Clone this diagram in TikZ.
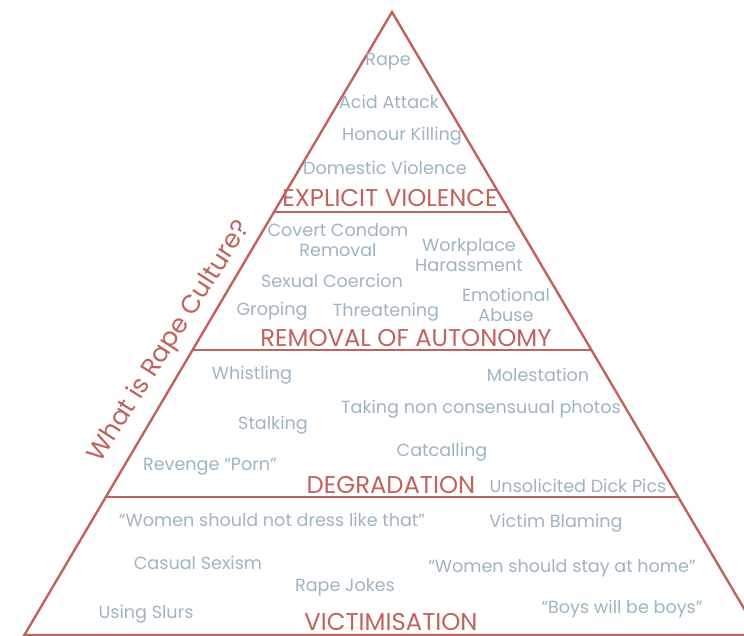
\documentclass[tikz,border=0pt]{standalone}
\usepackage{fontspec}
\setmainfont{Poppins}
\definecolor{rose}{HTML}{C2625D}
\definecolor{slate}{HTML}{9DB4C2}
\begin{document}
\begin{tikzpicture}[x=1pt,y=-1pt,
  item/.style={text=slate,font=\fontsize{17.6}{20.5}\selectfont,align=center,inner sep=0pt},
  tier/.style={text=rose,font=\fontsize{24.3}{26}\selectfont,inner sep=0pt},
  edge/.style={draw=rose,line width=2.4pt}]
\useasboundingbox (0,0) rectangle (744,636);
\clip (0,0) rectangle (744,636);
% pyramid outline and tier boundaries
\coordinate (apex) at (392,12);
\coordinate (bl) at (24.4,635);
\coordinate (br) at (759.6,635);
\draw[edge,line join=miter] (bl) -- (apex) -- (br) -- cycle;
\coordinate (a1) at (274,212); \coordinate (b1) at (510,212);
\coordinate (a2) at (192.6,350); \coordinate (b2) at (591.4,350);
\coordinate (a3) at (106,497); \coordinate (b3) at (678,497);
\draw[edge] (a1) -- (b1);
\draw[edge] (a2) -- (b2);
\draw[edge] (a3) -- (b3);
% explicit violence
\node[item] (rape) at (388,62) {Rape};
\node[item] (acid) at (389,102) {Acid Attack};
\node[item] (honour) at (402,136) {Honour Killing};
\node[item] (domestic) at (385,168) {Domestic Violence};
\node[tier] (t1) at (390,198) {EXPLICIT VIOLENCE};
% removal of autonomy
\node[item] (condom) at (338,240) {Covert Condom\\Removal};
\node[item] (work) at (469,255) {Workplace\\Harassment};
\node[item] (coercion) at (332,281) {Sexual Coercion};
\node[item] (groping) at (272,311) {Groping};
\node[item] (threat) at (386,312) {Threatening};
\node[item] (emotional) at (506,305) {Emotional\\Abuse};
\node[tier] (t2) at (406,338) {REMOVAL OF AUTONOMY};
% degradation
\node[item] (whistle) at (252,375) {Whistling};
\node[item] (molest) at (538,375) {Molestation};
\node[item] (photos) at (481,409) {Taking non consensuual photos};
\node[item] (stalk) at (273,425) {Stalking};
\node[item] (catcall) at (442,452) {Catcalling};
\node[item] (revenge) at (210,467) {Revenge “Porn”};
\node[tier] (t3) at (391,485) {DEGRADATION};
\node[item] (dick) at (578,486) {Unsolicited Dick Pics};
% victimisation
\node[item] (dress) at (272,520) {“Women should not dress like that”};
\node[item] (blame) at (556,523) {Victim Blaming};
\node[item] (sexism) at (198,563) {Casual Sexism};
\node[item] (home) at (562,568) {“Women should stay at home”};
\node[item] (jokes) at (345,587) {Rape Jokes};
\node[item] (boys) at (622,609) {“Boys will be boys”};
\node[item] (slurs) at (146,614) {Using Slurs};
\node[tier] (t4) at (391,622) {VICTIMISATION};
% side title
\node[text=rose,font=\fontsize{25.5}{27}\selectfont,inner sep=0pt,rotate=57.5] (title) at (170,342) {What is Rape Culture?};
\end{tikzpicture}
\end{document}
